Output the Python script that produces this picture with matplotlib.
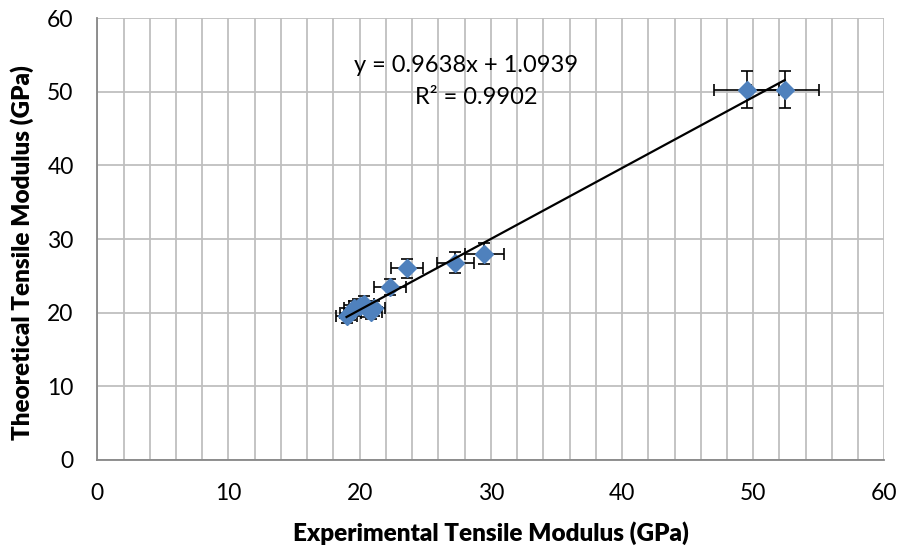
import matplotlib.pyplot as plt
from matplotlib.ticker import MultipleLocator

plt.rcParams['font.family'] = ['Lato', 'DejaVu Sans']

# Experimental vs theoretical tensile modulus (GPa)
exp_mod = [19.0, 19.3, 19.6, 20.0, 20.3, 20.6, 20.9, 21.1, 22.3, 23.6, 27.3, 29.5, 49.5, 52.4]
theo_mod = [19.6, 20.0, 20.6, 20.9, 21.2, 20.4, 20.1, 20.6, 23.5, 26.0, 26.8, 28.0, 50.3, 50.3]
exp_err = [0.8, 0.8, 0.8, 0.8, 0.8, 0.8, 0.8, 0.8, 1.2, 1.2, 1.4, 1.5, 2.5, 2.6]
theo_err = [1.0, 1.0, 1.0, 1.0, 1.0, 1.0, 1.0, 1.0, 1.1, 1.3, 1.4, 1.4, 2.5, 2.5]

slope = 0.9638
intercept = 1.0939
r2 = 0.9902

fig = plt.figure(figsize=(9.09, 5.52), dpi=100)
ax = fig.add_axes([0.107, 0.167, 0.866, 0.800])

ax.errorbar(exp_mod, theo_mod, xerr=exp_err, yerr=theo_err, fmt='D',
            color='#4F81BD', markersize=9, ecolor='black', elinewidth=1.2,
            capsize=4, capthick=1.2, zorder=3)

# linear trendline
x0, x1 = min(exp_mod), max(exp_mod)
ax.plot([x0, x1], [slope * x0 + intercept, slope * x1 + intercept],
        color='black', lw=1.6, zorder=4)

ax.text(28.1, 53.6, 'y = %.4fx + %.4f' % (slope, intercept), fontsize=17,
        ha='center', va='center')
ax.text(28.9, 49.2, 'R² = %.4f' % r2, fontsize=17, ha='center', va='center')

ax.set_xlim(0, 60)
ax.set_ylim(0, 60)
ax.xaxis.set_major_locator(MultipleLocator(10))
ax.xaxis.set_minor_locator(MultipleLocator(2))
ax.yaxis.set_major_locator(MultipleLocator(10))
ax.grid(which='major', color='#BFBFBF', lw=1.3)
ax.grid(which='minor', axis='x', color='#BFBFBF', lw=1.3)
ax.set_axisbelow(True)
ax.tick_params(which='both', length=0)
ax.tick_params(which='major', labelsize=16.5, pad=17)
for side in ['top', 'right']:
    ax.spines[side].set_visible(False)
for side in ['left', 'bottom']:
    ax.spines[side].set_color('#878787')
    ax.spines[side].set_linewidth(1.3)

ax.set_xlabel('Experimental Tensile Modulus (GPa)', fontsize=17.5, fontweight='heavy', va='center')
ax.set_ylabel('Theoretical Tensile Modulus (GPa)', fontsize=17.5, fontweight='heavy', va='center')
ax.xaxis.set_label_coords(0.5, -0.165)
ax.yaxis.set_label_coords(-0.095, 0.47)

fig.savefig('out.png', dpi=100)
